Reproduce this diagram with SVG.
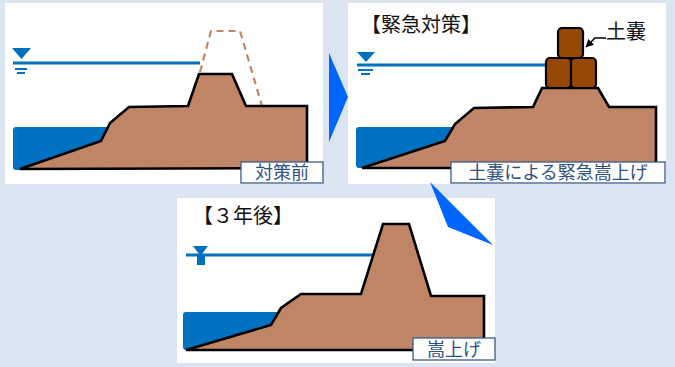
<svg xmlns="http://www.w3.org/2000/svg" width="675" height="367" viewBox="0 0 675 367">
  <defs>
    <style>
      .panel { fill: #ffffff; }
      .water { fill: #0070c0; }
      .level { stroke: #0070c0; stroke-width: 3; fill: none; }
      .bank { fill: #c08566; stroke: #000000; stroke-width: 2.6; stroke-linejoin: miter; }
      .bag { fill: #974706; stroke: #000000; stroke-width: 2.2; }
      .tag { fill: #ffffff; stroke: #3d5a8a; stroke-width: 1.3; }
      .tagtext { font-family: "Noto Sans CJK JP", "Noto Sans", sans-serif; font-size: 18px; fill: #2f4f7f; text-anchor: middle; }
      .title { font-family: "Noto Sans CJK JP", "Noto Sans", sans-serif; font-size: 20px; fill: #111111; }
      .step { fill: #0066ff; }
    </style>
    <marker id="tip" viewBox="0 0 10 10" refX="9" refY="5" markerWidth="5" markerHeight="5" orient="auto">
      <path d="M0,0 L10,5 L0,10 z" fill="#000000"/>
    </marker>
  </defs>

  <rect width="675" height="367" fill="#dbe5f1"/>

  <!-- before countermeasure -->
  <g id="before">
    <rect class="panel" x="5" y="3" width="318" height="181"/>
    <rect class="water" x="13" y="127" width="100" height="43" rx="3"/>
    <line class="level" x1="13" y1="63" x2="200" y2="63"/>
    <polygon class="water" points="12,48 31,48 21.5,59"/>
    <rect class="water" x="15" y="68" width="12" height="2"/>
    <rect class="water" x="17" y="72" width="8" height="2"/>
    <polyline points="200,72 211,31 240,31 262,106" fill="none" stroke="#c08566" stroke-width="2.2" stroke-dasharray="7,5"/>
    <polygon class="bank" points="20,169 101,141 110,123 129,107 188,106 199,74 232,74 246,106 307,106 307,168"/>
    <rect class="tag" x="241" y="162" width="82" height="21"/>
    <text class="tagtext" x="282" y="179">対策前</text>
  </g>

  <!-- emergency countermeasure -->
  <g id="emergency">
    <rect class="panel" x="348" y="3" width="318" height="181"/>
    <text class="title" x="361" y="32">【緊急対策】</text>
    <rect class="water" x="356" y="127" width="100" height="41" rx="3"/>
    <line class="level" x1="357" y1="65" x2="547" y2="65"/>
    <polygon class="water" points="357,52 375,52 366,62"/>
    <rect class="water" x="358" y="69" width="15" height="2"/>
    <rect class="water" x="361" y="73" width="9" height="2"/>
    <polygon class="bank" points="362,168 445,141 455,124 474,108 533,107 542,88 598,88 609,107 656,107 656,168"/>
    <rect class="bag" x="546" y="58" width="25" height="30" rx="4"/>
    <rect class="bag" x="571" y="58" width="25" height="30" rx="4"/>
    <rect class="bag" x="558" y="28" width="25" height="30" rx="4"/>
    <text class="title" x="606" y="39">土嚢</text>
    <polyline points="606,38 595,38 586,47" fill="none" stroke="#000000" stroke-width="1.6" marker-end="url(#tip)"/>
    <rect class="tag" x="451" y="162" width="214" height="21"/>
    <text class="tagtext" x="558" y="179">土嚢による緊急嵩上げ</text>
  </g>

  <!-- three years later -->
  <g id="after">
    <rect class="panel" x="177" y="198" width="318" height="165"/>
    <text class="title" x="193" y="223">【３年後】</text>
    <rect class="water" x="183" y="312" width="100" height="38" rx="3"/>
    <line class="level" x1="186" y1="255" x2="373" y2="255"/>
    <polygon class="water" points="193,246 208,246 200.5,256"/>
    <rect class="water" x="197" y="254" width="8" height="11"/>
    <polygon class="bank" points="186,350 271,325 281,308 301,294 361,294 383,224 409,224 431,296 484,296 484,350"/>
    <rect class="tag" x="413" y="338" width="82" height="22"/>
    <text class="tagtext" x="454" y="356">嵩上げ</text>
  </g>

  <!-- step arrows -->
  <g id="connectors">
    <polygon class="step" points="329,53 348,97 329,142"/>
    <polygon class="step" points="430,182 448,227 493,245"/>
  </g>
</svg>
